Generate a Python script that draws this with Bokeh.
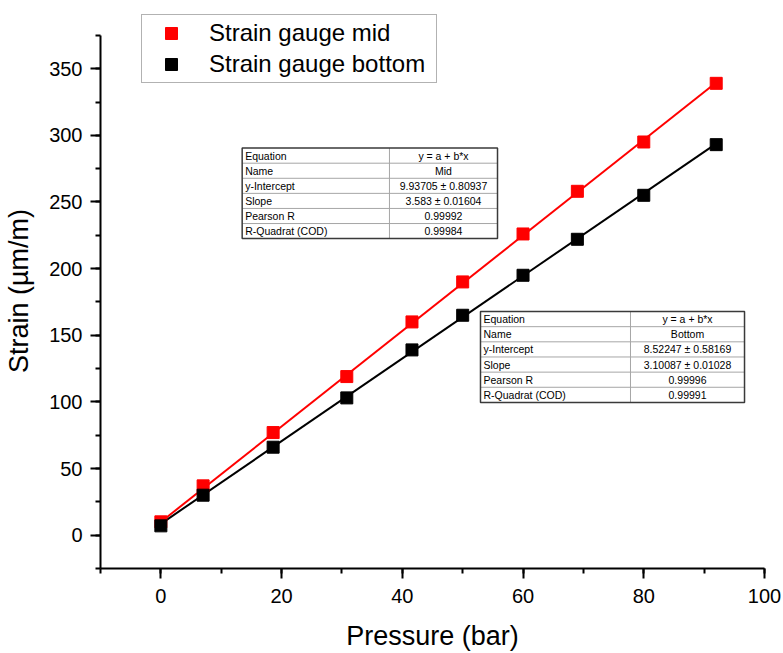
from bokeh.plotting import figure
from bokeh.models import (ColumnDataSource, SingleIntervalTicker, Range1d, Legend, LegendItem)
from bokeh.core.properties import value
from bokeh.embed import file_html
from bokeh.resources import INLINE

# Measured pressure steps and strain readings
pressure = [0, 7, 18.6, 30.8, 41.6, 50, 60, 69, 80, 92]
strain_mid = [10, 37, 77, 119, 160, 190, 226, 258, 295, 339]
strain_bottom = [7, 30, 66, 103, 139, 165, 195, 222, 255, 293]

# Linear fit results (y = a + b*x)
fit_mid = {"a": 9.93705, "b": 3.583}
fit_bottom = {"a": 8.52247, "b": 3.10087}

# Fit report tables
table_keys = ["Equation", "Name", "y-Intercept", "Slope", "Pearson R", "R-Quadrat (COD)"]
table_mid = ["y = a + b*x", "Mid", "9.93705 \u00b1 0.80937", "3.583 \u00b1 0.01604", "0.99992", "0.99984"]
table_bottom = ["y = a + b*x", "Bottom", "8.52247 \u00b1 0.58169", "3.10087 \u00b1 0.01028", "0.99996", "0.99991"]

FONT = "Liberation Sans"

# The frame reaches a little above the y axis so the legend box fits inside it
p = figure(width=783, height=653, output_backend="svg", toolbar_location=None,
           x_range=Range1d(-10, 100), y_range=Range1d(-25, 391.4),
           min_border_left=100, min_border_right=19, min_border_top=13, min_border_bottom=82)
p.outline_line_color = None
p.grid.visible = False
p.background_fill_color = "white"
p.border_fill_color = "white"

for ax in (p.xaxis[0], p.yaxis[0]):
    ax.axis_line_width = 2
    ax.major_tick_line_width = 2
    ax.minor_tick_line_width = 2
    ax.major_tick_out = 10
    ax.major_tick_in = 0
    ax.minor_tick_out = 5
    ax.minor_tick_in = 0
    ax.major_label_text_font = FONT
    ax.major_label_text_font_size = "20px"
    ax.major_label_text_color = "black"
    ax.axis_label_text_font = FONT
    ax.axis_label_text_font_size = "27px"
    ax.axis_label_text_font_style = "normal"
    ax.axis_label_text_color = "black"

p.xaxis[0].ticker = SingleIntervalTicker(interval=20, num_minor_ticks=2)
p.yaxis[0].ticker = SingleIntervalTicker(interval=50, num_minor_ticks=2)
p.yaxis[0].bounds = (-25, 375)
p.xaxis[0].axis_label = "Pressure (bar)"
p.yaxis[0].axis_label = "Strain (\u00b5m/m)"
p.xaxis[0].major_label_standoff = 10
p.yaxis[0].major_label_standoff = 8
p.xaxis[0].axis_label_standoff = 15
p.yaxis[0].axis_label_standoff = 12

# Fit lines over the measured span
x_fit = [pressure[0], pressure[-1]]
p.line(x_fit, [fit_mid["a"] + fit_mid["b"] * x for x in x_fit], line_color="#ff0000", line_width=2)
p.line(x_fit, [fit_bottom["a"] + fit_bottom["b"] * x for x in x_fit], line_color="black", line_width=2)

r_mid = p.scatter(pressure, strain_mid, marker="square", size=12, fill_color="#ff0000", line_color="#ff0000")
r_bot = p.scatter(pressure, strain_bottom, marker="square", size=12, fill_color="black", line_color="black")


def draw_table(left, mid, right, top, bottom, values):
    n = len(table_keys)
    h = (top - bottom) / n
    rows_y = [top - (i + 0.5) * h for i in range(n)]
    # row separators
    ys = [top - i * h for i in range(1, n)]
    p.segment(x0=[left] * len(ys), x1=[right] * len(ys), y0=ys, y1=ys,
              line_color="#a6a6a6", line_width=1)
    p.segment(x0=[mid], x1=[mid], y0=[bottom], y1=[top], line_color="#a6a6a6", line_width=1)
    p.quad(left=[left], right=[right], top=[top], bottom=[bottom],
           fill_color=None, line_color="#3a3a3a", line_width=1.5)
    src_l = ColumnDataSource(dict(x=[left] * n, y=rows_y, t=table_keys))
    src_r = ColumnDataSource(dict(x=[(mid + right) / 2] * n, y=rows_y, t=values))
    p.text("x", "y", text="t", source=src_l, x_offset=3, text_font=value(FONT),
           text_font_size="10.5px", text_align="left", text_baseline="middle", text_color="black")
    p.text("x", "y", text="t", source=src_r, text_font=value(FONT),
           text_font_size="10.5px", text_align="center", text_baseline="middle", text_color="black")


draw_table(13.47, 37.87, 55.77, 290.4, 222.5, table_mid)
draw_table(52.95, 77.8, 96.69, 167.8, 99.6, table_bottom)

legend = Legend(items=[LegendItem(label="Strain gauge mid", renderers=[r_mid]),
                       LegendItem(label="Strain gauge bottom", renderers=[r_bot])],
                location=(41, 485))
legend.label_text_font = FONT
legend.label_text_font_size = "24px"
legend.label_text_color = "black"
legend.padding = 3
legend.spacing = 1
legend.margin = 0
legend.glyph_width = 52
legend.glyph_height = 30
legend.label_height = 30
legend.label_width = 224
legend.label_standoff = 12
legend.border_line_color = "#666666"
legend.border_line_width = 1.5
legend.background_fill_color = "white"
legend.background_fill_alpha = 1
p.add_layout(legend, "center")

open("out.html", "w").write(file_html(p, INLINE))
